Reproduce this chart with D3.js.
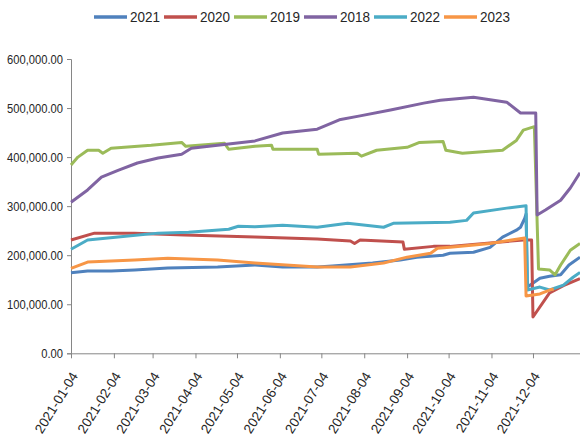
<!DOCTYPE html>
<html>
<head>
<meta charset="utf-8">
<script src="https://cdn.jsdelivr.net/npm/d3@7"></script>
<style>
  html, body { margin: 0; padding: 0; background: #fff; }
  svg { display: block; }
  text { font-family: "Liberation Sans", Arial, sans-serif; fill: #262626; }
</style>
</head>
<body>
<svg id="chart" width="580" height="435"></svg>
<script>
// ---- data (values in thousands) ----
const seriesNames = ["2021", "2020", "2019", "2018", "2022", "2023"];
const seriesColors = ["#4F81BD", "#C0504D", "#9BBB59", "#8064A2", "#4BACC6", "#F79646"];

const dates2021 = ["2021-01-04","2021-01-16","2021-02-02","2021-02-19","2021-03-15","2021-04-20","2021-05-17","2021-06-06","2021-07-01","2021-07-12","2021-08-10","2021-08-30","2021-09-11","2021-09-30","2021-10-05","2021-10-22","2021-11-03","2021-11-12","2021-11-22","2021-11-25","2021-11-28","2021-11-29","2021-11-30","2021-12-09","2021-12-16","2021-12-24","2021-12-30","2022-01-07"];
const vals2021  = [164,168,168,170,174,176,180,176,176,178,184,190,196,200,204,206,216,237,251,257,275,284,135,153,157,160,180,196];

const dates2020 = ["2021-01-04","2021-01-21","2021-02-19","2021-03-27","2021-05-17","2021-07-01","2021-07-25","2021-07-28","2021-08-01","2021-09-01","2021-09-02","2021-09-23","2021-10-05","2021-11-27","2021-12-03","2021-12-04","2021-12-16","2021-12-26","2022-01-07"];
const vals2020  = [231,245,245,241,237,233,229,224,231,227,212,218,218,231,231,74,123,138,152];

const dates2019 = ["2021-01-04","2021-01-09","2021-01-16","2021-01-24","2021-01-27","2021-02-02","2021-03-03","2021-03-25","2021-03-28","2021-04-25","2021-04-28","2021-05-17","2021-05-29","2021-05-30","2021-07-01","2021-07-02","2021-07-30","2021-08-02","2021-08-13","2021-09-04","2021-09-13","2021-09-30","2021-10-02","2021-10-14","2021-11-12","2021-11-22","2021-11-27","2021-12-05","2021-12-08","2021-12-16","2021-12-20","2021-12-24","2021-12-31","2022-01-07"];
const vals2019  = [384,400,414,414,408,418,424,430,422,428,416,422,424,416,416,406,408,402,414,420,430,432,414,408,414,434,455,462,172,170,160,180,210,224];

const dates2018 = ["2021-01-04","2021-01-16","2021-01-26","2021-02-07","2021-02-21","2021-03-08","2021-03-25","2021-04-01","2021-04-20","2021-05-17","2021-06-06","2021-07-01","2021-07-17","2021-08-01","2021-08-23","2021-09-16","2021-09-28","2021-10-22","2021-11-15","2021-11-25","2021-12-06","2021-12-07","2021-12-13","2021-12-24","2021-12-31","2022-01-07"];
const vals2018  = [308,333,359,373,388,398,406,418,424,433,449,457,476,484,496,510,516,522,512,490,490,282,292,312,337,368];

const dates2022 = ["2021-01-04","2021-01-16","2021-02-07","2021-03-08","2021-03-30","2021-04-28","2021-05-05","2021-05-17","2021-06-06","2021-07-01","2021-07-23","2021-08-18","2021-08-25","2021-10-05","2021-10-17","2021-10-22","2021-11-15","2021-11-29","2021-11-30","2021-12-09","2021-12-16","2021-12-26","2022-01-02","2022-01-07"];
const vals2022  = [212,231,237,245,247,253,259,258,261,257,265,257,265,267,271,286,296,301,129,135,129,139,155,165];

const dates2023 = ["2021-01-04","2021-01-16","2021-02-19","2021-03-15","2021-04-20","2021-05-17","2021-07-01","2021-07-25","2021-08-18","2021-09-04","2021-09-21","2021-09-26","2021-10-05","2021-11-03","2021-11-28","2021-11-29","2021-12-09","2021-12-16","2021-12-19"];
const vals2023  = [173,186,190,194,190,184,176,176,184,196,204,214,216,224,235,117,121,129,131];

const yTicks = [0, 100000, 200000, 300000, 400000, 500000, 600000];
const xTickDates = ["2021-01-04","2021-02-04","2021-03-04","2021-04-04","2021-05-04","2021-06-04","2021-07-04","2021-08-04","2021-09-04","2021-10-04","2021-11-04","2021-12-04"];

// ---- build ----
const parse = d3.timeParse("%Y-%m-%d");
const fmtDate = d3.timeFormat("%Y-%m-%d");
const allDates = [dates2021, dates2020, dates2019, dates2018, dates2022, dates2023];
const allVals = [vals2021, vals2020, vals2019, vals2018, vals2022, vals2023];
const series = seriesNames.map((name, i) => ({
  name, color: seriesColors[i],
  points: allDates[i].map((d, j) => ({ date: parse(d), value: allVals[i][j] * 1000 }))
}));

const svg = d3.select("#chart");
const x = d3.scaleTime()
  .domain([parse("2021-01-04"), parse("2022-01-07")])
  .range([71, 580]);
const y = d3.scaleLinear().domain([0, 600000]).range([353.3, 59]);

const axisColor = "#868686";

// y axis
const yAxis = svg.append("g").attr("transform", "translate(71,0)")
  .call(d3.axisLeft(y).tickValues(yTicks).tickSize(4).tickPadding(5)
    .tickFormat(d3.format(",.2f")));
yAxis.select(".domain").attr("stroke", axisColor);
yAxis.selectAll(".tick line").attr("stroke", axisColor);
yAxis.selectAll(".tick text")
  .style("font-size", "13px").attr("fill", "#262626")
  .attr("x", -8 / 0.86)
  .attr("transform", "scale(0.86,1)");

// x axis
const xAxis = svg.append("g").attr("transform", "translate(0,353.3)")
  .call(d3.axisBottom(x).tickValues(xTickDates.map(parse)).tickSize(5).tickSizeOuter(0)
    .tickFormat(fmtDate));
xAxis.select(".domain").attr("stroke", axisColor);
xAxis.selectAll(".tick line").attr("stroke", axisColor);
xAxis.selectAll(".tick text")
  .style("font-size", "13.5px").attr("fill", "#262626")
  .attr("text-anchor", "end")
  .attr("x", 0).attr("y", 0).attr("dy", "0.35em")
  .attr("transform", "translate(3,20) rotate(-58)");

// lines
const line = d3.line().x(d => x(d.date)).y(d => y(d.value));
svg.append("g").selectAll("path").data(series).join("path")
  .attr("fill", "none")
  .attr("stroke", d => d.color)
  .attr("stroke-width", 3)
  .attr("stroke-linejoin", "round")
  .attr("d", d => line(d.points));

// legend
const lg = svg.append("g").selectAll("g").data(series).join("g")
  .attr("transform", (d, i) => `translate(${94 + i * 70},17)`);
lg.append("line").attr("x1", 0).attr("x2", 33).attr("y1", 0).attr("y2", 0)
  .attr("stroke", d => d.color).attr("stroke-width", 3.5);
lg.append("text").attr("x", 36 / 0.9).attr("dy", "0.36em")
  .attr("transform", "scale(0.9,1)")
  .style("font-size", "15px").text(d => d.name);
</script>
</body>
</html>
